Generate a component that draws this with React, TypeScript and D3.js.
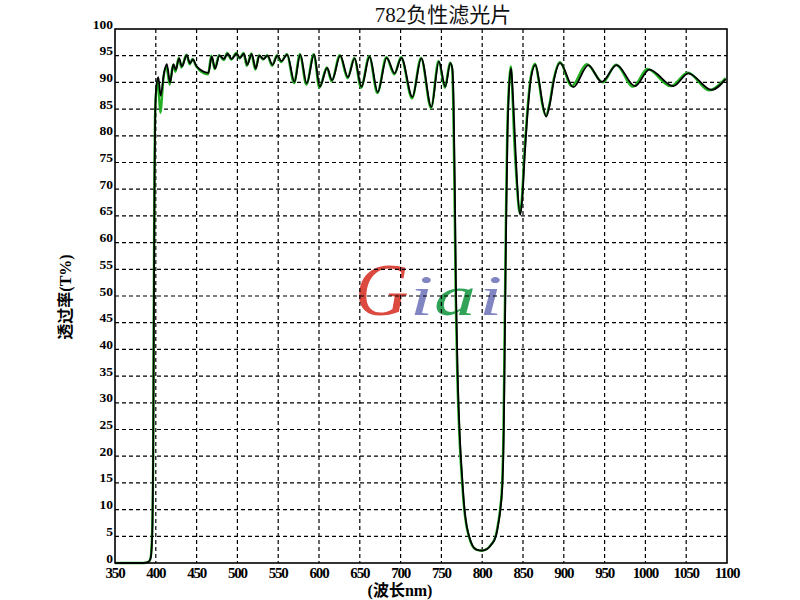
import React from "react";
import * as d3 from "d3";

const title = "782负性滤光片";
const xTitle = "(波长nm)";
const yTitle = "透过率(T%)";
const xTicks = [350, 400, 450, 500, 550, 600, 650, 700, 750, 800, 850, 900, 950, 1000, 1050, 1100];
const yTicks = [0, 5, 10, 15, 20, 25, 30, 35, 40, 45, 50, 55, 60, 65, 70, 75, 80, 85, 90, 95, 100];

const blackWl = [350, 385, 391, 393.5, 395, 396, 396.8, 397.4, 398, 398.6, 399.3, 400.5, 403, 406, 410, 413.5, 417.5, 421.6, 424.5, 428.6, 432, 438, 442, 445.5, 450, 464.5, 468.6, 472.7, 478, 483.7, 488, 493, 499, 503, 508, 512, 517.6, 522.5, 527, 532, 537, 543, 549, 554, 561, 570, 577, 585, 594, 601, 610, 616, 626, 635.5, 643.7, 652, 662, 672, 683, 692.7, 701, 714.4, 725.4, 737.7, 747, 754.8, 761, 763.5, 765, 766.5, 768, 770, 772.5, 775.7, 778.4, 781, 784, 788, 793, 800, 806, 811, 816.8, 820, 822.3, 825, 826.5, 827.5, 828.5, 829.5, 831, 833, 835.5, 837.5, 840, 842.5, 846.5, 849, 852, 856, 860, 865.3, 870, 874, 878.4, 883, 888, 895.5, 911.7, 930, 946.4, 964.8, 987.3, 1004.8, 1034.2, 1052.6, 1081.2, 1098.4];
const blackT = [0, 0, 0.2, 0.8, 3, 8, 20, 38, 58, 74, 84, 89, 91, 87.5, 91.7, 93.4, 90, 93.4, 92.4, 94.5, 93, 95.1, 93.6, 94.3, 93, 91.8, 94.8, 92.6, 95, 94.4, 95.4, 94.4, 95.4, 94.6, 95.4, 93.3, 95.3, 92.6, 95, 94.4, 95, 93.3, 95, 94, 95.2, 90.1, 95.2, 89.8, 95.2, 89.2, 92.7, 90.4, 95, 91, 94.5, 89.2, 94.8, 88.2, 94.6, 91.7, 94.6, 87.3, 94.5, 85.4, 93.9, 89.2, 93.6, 92.5, 86, 70, 50, 35, 24, 15.5, 10, 7, 5, 3.3, 2.5, 2.3, 2.6, 3.4, 5, 7.5, 10, 15.5, 25, 38, 52, 65, 80, 89, 92.6, 88, 80, 72, 65.2, 68, 76, 85, 91, 93.3, 90, 86, 83.6, 86, 90.5, 93.6, 89.1, 93.25, 90.1, 93.25, 89.3, 92.4, 89.3, 91.7, 88.6, 90.6];

const greenWl = [350, 385, 391, 393.5, 395, 396, 396.7, 397.2, 397.7, 398.3, 399, 400.3, 402.5, 405.5, 409.5, 413, 417, 421, 424, 428, 431.5, 437.5, 441.5, 445, 449.5, 464, 468, 472.2, 477.5, 483.2, 487.5, 492.5, 498.5, 502.5, 507.5, 511.5, 517, 522, 526.5, 531.5, 536.5, 542.5, 548.5, 553.5, 560.5, 569.5, 576.5, 584.5, 593.5, 600.5, 609.5, 615.5, 625.5, 635, 643.2, 651.5, 661.5, 671.5, 682.5, 692.2, 700.5, 714, 725, 737.3, 746.5, 754.3, 760.5, 763, 764.5, 766, 767.5, 769.5, 772, 775.2, 778, 780.6, 783.6, 787.6, 792.6, 799.6, 805.6, 810.6, 816.4, 819.6, 821.9, 824.6, 826.1, 827.1, 828.1, 829.1, 830.6, 832.6, 835, 837, 839, 842, 846, 848.5, 851.5, 855.5, 859.5, 864.8, 869.5, 873.5, 878, 882.5, 887.5, 895, 909.6, 928, 948, 964, 985, 1002.5, 1031, 1052, 1078, 1098.4];
const greenT = [0, 0, 0.2, 0.9, 3.5, 9, 18, 36, 54, 72, 83, 88, 90.5, 84.3, 91, 93, 89.6, 93.2, 92, 94.6, 92.8, 95.2, 93.4, 94.4, 93, 91.5, 95, 92.5, 95.1, 94.2, 95.5, 94.3, 95.5, 94.5, 95.5, 93.1, 95.4, 92.4, 95.1, 94.3, 95.1, 93.1, 95.1, 93.8, 95.3, 89.9, 95.3, 89.6, 95.3, 89, 92.8, 90.2, 95.1, 90.8, 94.6, 89, 94.9, 88, 94.7, 91.5, 94.7, 87, 94.6, 85.2, 94, 89, 93.7, 92.8, 86, 70, 50, 35, 24, 15.5, 10, 7, 5, 3.3, 2.5, 2.3, 2.6, 3.4, 5, 7.5, 10, 15.5, 25, 38, 52, 65, 80, 89, 93, 88, 80, 72, 65.5, 68, 76, 85, 91, 93.5, 90, 86, 83.8, 86, 90.5, 93.8, 89.3, 93.4, 90, 93.3, 89.2, 92.5, 89.3, 91.8, 88.5, 90.8];

const serif = "'Liberation Serif', 'Times New Roman', serif";
const cjk = "'Liberation Serif', 'Noto Sans CJK SC', serif";

export default function App() {
  const left = 115, right = 727, top = 29, bottom = 563;
  const x = d3.scaleLinear().domain([350, 1100]).range([left, right]);
  const y = d3.scaleLinear().domain([0, 100]).range([bottom, top]);
  const line = d3
    .line<[number, number]>()
    .x((d) => x(d[0]))
    .y((d) => y(d[1]))
    .curve(d3.curveMonotoneX);
  const black = blackWl.map((w, i) => [w, blackT[i]] as [number, number]);
  const green = greenWl.map((w, i) => [w, greenT[i]] as [number, number]);

  return (
    <svg
      width={800}
      height={600}
      style={{ position: "absolute", left: 0, top: 0, background: "#fff" }}
    >
      <rect x={0} y={0} width={800} height={600} fill="#fff" />
      {/* watermark */}
      <g fontFamily={serif} fontStyle="italic" opacity={0.9}>
        <text x={355} y={315} fontSize={74} fill="#d9362b">G</text>
        <text transform="translate(410,315) scale(1.5,1)" fontSize={56} fill="#7478bb">i</text>
        <text transform="translate(434,315) scale(1.5,1)" fontSize={56} fill="#1b9a45">a</text>
        <text transform="translate(479,315) scale(1.5,1)" fontSize={56} fill="#7478bb">i</text>
      </g>
      {/* grid */}
      <g stroke="#000" strokeWidth={1.2} strokeDasharray="4,3">
        {xTicks.slice(1, -1).map((t) => (
          <line key={"gx" + t} x1={x(t)} x2={x(t)} y1={top} y2={bottom} />
        ))}
        {yTicks.slice(1, -1).map((t) => (
          <line key={"gy" + t} x1={left} x2={right} y1={y(t)} y2={y(t)} />
        ))}
      </g>
      {/* curves */}
      <path d={line(green) || ""} fill="none" stroke="#22b022" strokeWidth={2.4} />
      <path d={line(black) || ""} fill="none" stroke="#000" strokeWidth={1.8} />
      {/* frame */}
      <rect x={left} y={top} width={right - left} height={bottom - top} fill="none" stroke="#000" strokeWidth={1.6} />
      {/* y tick labels */}
      <g fontFamily={serif} fontWeight="bold" fontSize={13.5} textAnchor="end">
        {yTicks.map((t) => (
          <text key={"ty" + t} x={113} y={y(t) - 0.5}>{t}</text>
        ))}
      </g>
      {/* x tick labels */}
      <g fontFamily={serif} fontWeight="bold" fontSize={15} textAnchor="middle" letterSpacing={-1.2}>
        {xTicks.map((t) => (
          <text key={"tx" + t} x={x(t)} y={578}>{t}</text>
        ))}
      </g>
      {/* titles */}
      <text x={443} y={22} textAnchor="middle" fontFamily={cjk} fontSize={21} fill="#111">{title}</text>
      <text x={400} y={596} textAnchor="middle" fontFamily={cjk} fontSize={16} fontWeight="bold">{xTitle}</text>
      <text
        transform="translate(71,297) rotate(-90)"
        textAnchor="middle"
        fontFamily={cjk}
        fontSize={16}
        fontWeight="bold"
      >
        {yTitle}
      </text>
    </svg>
  );
}
